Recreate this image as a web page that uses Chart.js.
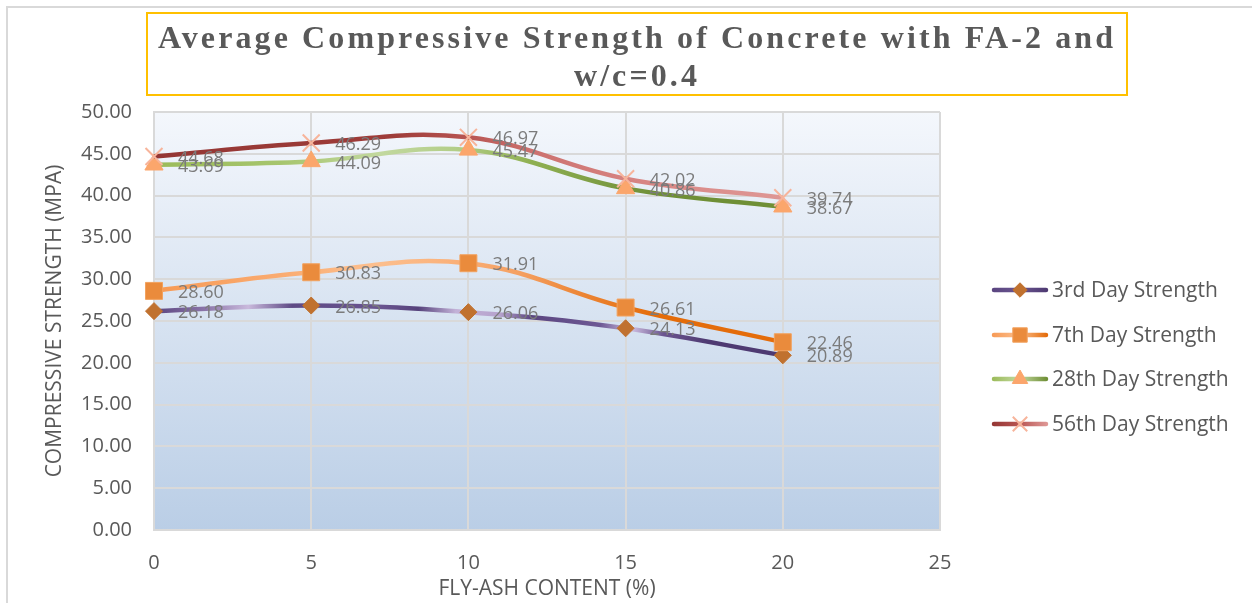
<!DOCTYPE html>
<html>
<head>
<meta charset="utf-8">
<script src="https://cdn.jsdelivr.net/npm/chart.js@4/dist/chart.umd.min.js"></script>
<style>
  html, body { margin: 0; padding: 0; background: #ffffff; }
  #wrap { position: relative; width: 1252px; height: 603px; overflow: hidden; background: #ffffff; }
  #frame { position: absolute; left: 6px; top: 6px; width: 1270px; height: 640px; border: 2px solid #d9d9d9; box-sizing: border-box; }
  #title {
    position: absolute; left: 146px; top: 12px; width: 982px; height: 84px;
    border: 2px solid #ffc000; box-sizing: border-box;
    font: bold 32px "Liberation Serif", "Times New Roman", serif; color: #595959;
    text-align: center; letter-spacing: 3.1px; line-height: 38px; padding-top: 4px;
  }
  canvas { position: absolute; left: 0; top: 0; }
</style>
</head>
<body>
<div id="wrap">
  <div id="frame"></div>
  <canvas id="chart" width="1252" height="603"></canvas>
  <div id="title">Average Compressive Strength of Concrete with FA-2 and<br>w/c=0.4</div>
</div>
<script>
// Fly-ash replacement levels (%) and average compressive strengths (MPa)
const flyAsh = [0, 5, 10, 15, 20];
const day3 = [26.18, 26.85, 26.06, 24.13, 20.89];
const day7 = [28.60, 30.83, 31.91, 26.61, 22.46];
const day28 = [43.69, 44.09, 45.47, 40.86, 38.67];
const day56 = [44.68, 46.29, 46.97, 42.02, 39.74];
const seriesNames = ['3rd Day Strength', '7th Day Strength', '28th Day Strength', '56th Day Strength'];
const xTicks = [0, 5, 10, 15, 20, 25];
const yTicks = [0, 5, 10, 15, 20, 25, 30, 35, 40, 45, 50];

const FONT = '"Open Sans", "Liberation Sans", sans-serif';
const TEXT = '#595959';
const GRID = '#d9d9d9';

// horizontal gradient strokes across the plot area
const strokeStops = [
  [[0, '#5a4580'], [0.08, '#8a74a8'], [0.15, '#c9b9dc'], [0.22, '#5e4a85'], [0.36, '#6a5590'], [0.42, '#55417b'],
   [0.48, '#c3b2d8'], [0.55, '#b6a3cd'], [0.6, '#5a4580'], [0.71, '#6e5994'], [0.76, '#cdbde0'], [0.81, '#6b5690'], [0.88, '#4e3a72'], [1, '#4e3a72']],
  [[0, '#f79a55'], [0.2, '#faab70'], [0.35, '#fcbf8e'], [0.45, '#fbb47e'], [0.58, '#f5a062'], [0.68, '#ec8535'], [0.8, '#e46c0a'], [1, '#e46c0a']],
  [[0, '#9bbb59'], [0.2, '#a6c56d'], [0.36, '#c2d89f'], [0.48, '#b3ce88'], [0.6, '#8fb052'], [0.72, '#7b9b42'], [0.8, '#6f8f36'], [1, '#6f8f36']],
  [[0, '#943634'], [0.38, '#9e3c39'], [0.5, '#b85553'], [0.6, '#cc716e'], [0.8, '#d98886'], [1, '#de9795']]
];
const legendStroke = ['#6a5590', '#f9a25f', '#9bbb59', '#b04845'];

function strokeFor(i) {
  return function (ctx) {
    const area = ctx.chart.chartArea;
    if (!area) return legendStroke[i];
    const g = ctx.chart.ctx.createLinearGradient(area.left, 0, area.right * 0.8 + area.left * 0.2, 0);
    strokeStops[i].forEach(s => g.addColorStop(s[0], s[1]));
    return g;
  };
}

function pts(vals) { return flyAsh.map((x, i) => ({ x: x, y: vals[i] })); }

const markerStyles = [
  { pointStyle: 'rectRot', pointRadius: 8.5, pointBackgroundColor: '#c0712f', pointBorderColor: '#c0712f', pointBorderWidth: 1 },
  { pointStyle: 'rect', pointRadius: 12, pointBackgroundColor: '#ea8b3c', pointBorderColor: '#f2a25f', pointBorderWidth: 1 },
  { pointStyle: 'triangle', pointRadius: 10.5, pointBackgroundColor: '#fba66c', pointBorderColor: '#fba66c', pointBorderWidth: 1 },
  { pointStyle: 'crossRot', pointRadius: 12, pointBackgroundColor: '#f7b49b', pointBorderColor: '#f7b49b', pointBorderWidth: 2 }
];

const seriesValues = [day3, day7, day28, day56];
const datasets = seriesValues.map((vals, i) => Object.assign({
  label: seriesNames[i],
  data: pts(vals),
  borderColor: strokeFor(i),
  borderWidth: 4.5,
  tension: 0.4,
  fill: false,
  clip: false,
  order: 4 - i
}, markerStyles[i]));

// plot area fill
const plotBackground = {
  id: 'plotBackground',
  beforeDraw(chart) {
    const { ctx, chartArea: a } = chart;
    const g = ctx.createLinearGradient(0, a.top, 0, a.bottom);
    g.addColorStop(0, '#f4f7fc');
    g.addColorStop(1, '#bacee6');
    ctx.save();
    ctx.fillStyle = g;
    ctx.fillRect(a.left, a.top, a.right - a.left, a.bottom - a.top);
    ctx.restore();
  }
};

// value labels to the right of each point
const valueLabels = {
  id: 'valueLabels',
  afterDatasetsDraw(chart) {
    const ctx = chart.ctx;
    ctx.save();
    ctx.font = '18px ' + FONT;
    ctx.fillStyle = '#7b7b7b';
    ctx.textAlign = 'left';
    ctx.textBaseline = 'middle';
    chart.data.datasets.forEach((ds, i) => {
      const meta = chart.getDatasetMeta(i);
      meta.data.forEach((el, j) => {
        ctx.fillText(ds.data[j].y.toFixed(2), el.x + 24, el.y + 2);
      });
    });
    ctx.restore();
  }
};

// legend on the right: line sample with marker, then series name
const sideLegend = {
  id: 'sideLegend',
  afterDraw(chart) {
    const ctx = chart.ctx;
    const rows = [290, 335, 379, 424];
    ctx.save();
    chart.data.datasets.forEach((ds, i) => {
      const y = rows[i];
      ctx.lineCap = 'round';
      ctx.lineWidth = 4.5;
      const g = ctx.createLinearGradient(992, 0, 1047, 0);
      const s = strokeStops[i];
      g.addColorStop(0, s[0][1]);
      g.addColorStop(0.5, s[Math.floor(s.length / 3)][1]);
      g.addColorStop(1, s[s.length - 1][1]);
      ctx.strokeStyle = g;
      ctx.beginPath();
      ctx.moveTo(994, y);
      ctx.lineTo(1046, y);
      ctx.stroke();
      ctx.fillStyle = ds.pointBackgroundColor;
      ctx.strokeStyle = ds.pointBorderColor;
      ctx.lineWidth = ds.pointBorderWidth;
      ctx.lineCap = 'butt';
      Chart.helpers.drawPoint(ctx, { pointStyle: ds.pointStyle, radius: ds.pointRadius * 0.85, borderWidth: ds.pointBorderWidth, rotation: 0 }, 1020, y);
      ctx.font = '21px ' + FONT;
      ctx.fillStyle = TEXT;
      ctx.textAlign = 'left';
      ctx.textBaseline = 'middle';
      ctx.fillText(ds.label, 1052, y + 1);
    });
    ctx.restore();
  }
};

new Chart(document.getElementById('chart'), {
  type: 'line',
  data: { datasets: datasets },
  plugins: [plotBackground, valueLabels, sideLegend],
  options: {
    responsive: false,
    animation: false,
    events: [],
    layout: { padding: { top: 112, right: 312, left: 0, bottom: 0 } },
    plugins: { legend: { display: false }, tooltip: { enabled: false }, title: { display: false } },
    scales: {
      x: {
        type: 'linear', min: 0, max: 25,
        afterBuildTicks(s) { s.ticks = xTicks.map(v => ({ value: v })); },
        afterFit(s) { s.height = 73; },
        grid: { color: GRID, lineWidth: 2, drawTicks: false },
        border: { color: GRID, width: 2 },
        ticks: { color: TEXT, font: { family: FONT, size: 20 }, padding: 21, maxRotation: 0 },
        title: { display: true, text: 'FLY-ASH CONTENT (%)', color: TEXT, font: { family: FONT, size: 21 }, padding: { top: 0, bottom: 1 } }
      },
      y: {
        type: 'linear', min: 0, max: 50,
        afterBuildTicks(s) { s.ticks = yTicks.map(v => ({ value: v })); },
        afterFit(s) { s.width = 154; },
        grid: { color: GRID, lineWidth: 2, drawTicks: false },
        border: { color: GRID, width: 2 },
        ticks: { color: TEXT, font: { family: FONT, size: 20 }, padding: 22, callback: v => Number(v).toFixed(2) },
        title: { display: true, text: 'COMPRESSIVE STRENGTH (MPA)', color: TEXT, font: { family: FONT, size: 21 }, padding: { top: 42, bottom: 0 } }
      }
    }
  }
});
</script>
</body>
</html>
